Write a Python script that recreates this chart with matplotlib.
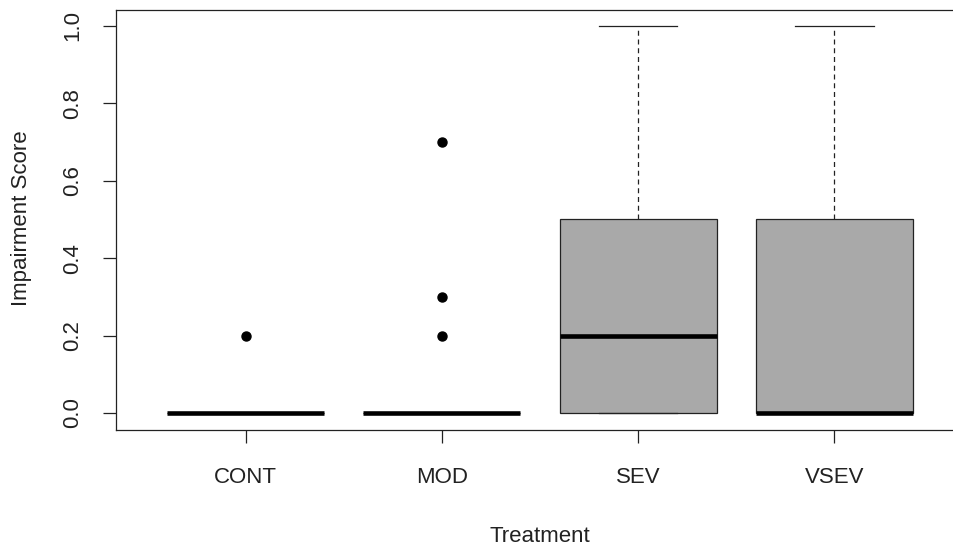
import matplotlib
matplotlib.use("Agg")
import matplotlib.pyplot as plt

categories = ["CONT", "MOD", "SEV", "VSEV"]
q1 = [0.0, 0.0, 0.0, 0.0]
medians = [0.0, 0.0, 0.2, 0.0]
q3 = [0.0, 0.0, 0.5, 0.5]
whislo = [0.0, 0.0, 0.0, 0.0]
whishi = [0.0, 0.0, 1.0, 1.0]
fliers = [[0.2], [0.2, 0.3, 0.7], [], []]
yticks = [0.0, 0.2, 0.4, 0.6, 0.8, 1.0]
ytick_labels = ["0.0", "0.2", "0.4", "0.6", "0.8", "1.0"]

plt.rcParams["font.family"] = ["Liberation Sans", "DejaVu Sans"]

fig = plt.figure(figsize=(9.54, 5.5), dpi=100)
ax = fig.add_axes([116 / 954, 1 - 430 / 550, 848 / 954, (430 - 10) / 550])

stats = []
for i, c in enumerate(categories):
    stats.append(dict(label=c, q1=q1[i], med=medians[i], q3=q3[i],
                      whislo=whislo[i], whishi=whishi[i], fliers=fliers[i]))

positions = list(range(1, len(categories) + 1))
ax.bxp(stats, positions=positions, widths=0.8, capwidths=0.4, patch_artist=True,
       boxprops=dict(facecolor="#A9A9A9", edgecolor="#222222", linewidth=0.9),
       medianprops=dict(color="black", linewidth=3.3, solid_capstyle="butt"),
       whiskerprops=dict(color="#222222", linewidth=0.9, linestyle=(0, (4, 3))),
       capprops=dict(color="#222222", linewidth=0.9),
       flierprops=dict(marker="o", markerfacecolor="black", markeredgecolor="black",
                       markersize=6.5, linestyle="none"))

ax.set_xlim(0.34, 4.66)
ax.set_ylim(-0.044, 1.041)
ax.set_xticks(positions)
ax.set_xticklabels(categories, fontsize=16)
ax.set_yticks(yticks)
ax.set_yticklabels(ytick_labels, fontsize=16, rotation=90, va="center")
ax.tick_params(axis="both", direction="out", length=9.5, width=0.9, colors="#222222",
               labelcolor="#222222")
ax.tick_params(axis="x", pad=17)
ax.tick_params(axis="y", pad=14)
for s in ax.spines.values():
    s.set_linewidth(0.9)
    s.set_color("#222222")

fig.text(540 / 954, 1 - 537 / 550, "Treatment", fontsize=16, ha="center", va="center",
         color="#222222")
fig.text(22 / 954, 1 - 218 / 550, "Impairment Score", fontsize=16, ha="center", va="center",
         rotation=90, color="#222222")

fig.savefig("out.png", dpi=100)
